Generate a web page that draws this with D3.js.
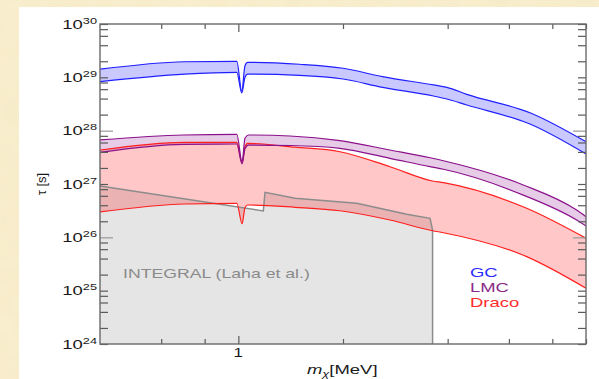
<!DOCTYPE html>
<html>
<head>
<meta charset="utf-8">
<script src="https://cdn.jsdelivr.net/npm/d3@7"></script>
<style>
  body { margin: 0; background: #f8ecca; }
  svg { display: block; font-family: "Liberation Sans", Arial, sans-serif; }
</style>
</head>
<body>
<svg id="chart" width="599" height="379"></svg>
<script>
// values: mass in MeV, lifetime in seconds
var gcMass  = [0.4, 0.70, 0.99, 1.023, 1.045, 1.063, 1.5, 2.0, 2.6, 3.64, 3.98, 4.54, 6.9, 10];
var gcUpper = [1.42e29, 1.96e29, 2.0e29, 5.5e28, 1.65e29, 1.91e29, 1.76e29, 1.48e29, 1.03e29, 7.2e28, 6.5e28, 4.8e28, 2.17e28, 6.2e27];
var gcLower = [8.3e28, 1.15e29, 1.24e29, 5.1e28, 1.0e29, 1.15e29, 1.09e29, 9.3e28, 6.5e28, 4.47e28, 3.93e28, 3.03e28, 1.33e28, 3.65e27];

var lmcMass  = [0.4, 0.695, 0.99, 1.025, 1.045, 1.069, 1.408, 1.96, 2.73, 3.56, 3.89, 6.6, 9.4, 10];
var lmcUpper = [6.7e27, 8.3e27, 8.55e27, 2.6e27, 7.2e27, 8.3e27, 7.94e27, 6.48e27, 4.34e27, 3.11e27, 2.73e27, 9.6e26, 3.25e26, 2.44e26];
var lmcLower = [3.93e27, 5.55e27, 5.62e27, 2.37e27, 4.6e27, 5.38e27, 5.27e27, 4.67e27, 3.03e27, 2.11e27, 1.89e27, 6.2e26, 2.11e26, 1.63e26];

var dracoMass  = [0.4, 0.70, 0.99, 1.025, 1.045, 1.063, 1.456, 1.96, 2.73, 3.62, 3.89, 6.75, 10];
var dracoUpper = [4.34e27, 6.05e27, 6.05e27, 2.5e27, 5.0e27, 5.79e27, 4.9e27, 4.03e27, 2.11e27, 1.14e27, 1.06e27, 3.5e26, 9.6e25];
var dracoLower = [2.99e26, 4.22e26, 4.35e26, 1.8e26, 3.6e26, 4.04e26, 3.66e26, 3.15e26, 2.11e26, 1.33e26, 1.22e26, 4.34e25, 1.11e25];

var integralMass = [0.4, 1.18, 1.193, 1.456, 2.19, 3.05, 3.56, 3.62, 3.62];
var integralTau  = [9.17e26, 3.12e26, 6.98e26, 5.39e26, 4.35e26, 2.7e26, 2.27e26, 1.37e26, 1e24];

var xMinorTicks = [0.6, 0.8, 2, 4, 6, 8, 10];
var xMajorTicks = [1];
var yExponents  = [24, 25, 26, 27, 28, 29, 30];
var yLongExps   = [26, 28];
var yMinorMult  = [2, 4, 6, 8];

var legendNames  = ["GC", "LMC", "Draco"];
var legendColors = ["#2a2aff", "#8a2a8a", "#ff2a2a"];

var frame = { left: 100, right: 586, top: 24, bottom: 344 };
var stretch = "scale(1.42,1)";

var svg = d3.select("#chart");

// textured paper behind the white panel
var defs = svg.append("defs");
var f = defs.append("filter").attr("id", "paper").attr("x", 0).attr("y", 0).attr("width", 1).attr("height", 1);
f.append("feTurbulence").attr("type", "fractalNoise").attr("baseFrequency", 0.035).attr("numOctaves", 3).attr("seed", 4);
f.append("feColorMatrix").attr("values", "0 0 0 0 0.85  0 0 0 0 0.75  0 0 0 0 0.5  0 0 0 0.3 -0.05");
defs.append("clipPath").attr("id", "plotclip")
  .append("rect").attr("x", frame.left).attr("y", frame.top)
  .attr("width", frame.right - frame.left).attr("height", frame.bottom - frame.top);

svg.append("rect").attr("width", 599).attr("height", 379).attr("fill", "#f9eecd");
svg.append("rect").attr("width", 599).attr("height", 379).attr("filter", "url(#paper)");
svg.append("rect").attr("x", 19).attr("y", 7).attr("width", 580).attr("height", 372).attr("fill", "#ffffff");

var x = d3.scaleLog().domain([0.4, 10]).range([frame.left, frame.right]);
var y = d3.scaleLog().domain([1e24, 1e30]).range([frame.bottom, frame.top]);

function rows(mass, a, b) {
  return mass.map(function(m, i) { return { m: m, hi: a[i], lo: b ? b[i] : 1e24 }; });
}

var band = d3.area()
  .x(function(d) { return x(d.m); })
  .y0(function(d) { return y(d.lo); })
  .y1(function(d) { return y(d.hi); })
  .curve(d3.curveMonotoneX);
var edgeHi = d3.line().x(function(d) { return x(d.m); }).y(function(d) { return y(d.hi); }).curve(d3.curveMonotoneX);
var edgeLo = d3.line().x(function(d) { return x(d.m); }).y(function(d) { return y(d.lo); }).curve(d3.curveMonotoneX);

var plot = svg.append("g").attr("clip-path", "url(#plotclip)");

// INTEGRAL excluded region
var integral = rows(integralMass, integralTau);
plot.append("path")
  .attr("d", d3.area().x(function(d) { return x(d.m); }).y0(y(1e24)).y1(function(d) { return y(d.hi); })(integral))
  .attr("fill", "#e5e5e5");

var bands = [
  { data: rows(dracoMass, dracoUpper, dracoLower), fill: "rgba(255,0,0,0.22)", stroke: "#ff1f1f" },
  { data: rows(lmcMass, lmcUpper, lmcLower), fill: "rgba(128,0,128,0.2)", stroke: "#8b108b" },
  { data: rows(gcMass, gcUpper, gcLower), fill: "rgba(0,0,255,0.21)", stroke: "#1f1fff" }
];

bands.forEach(function(b) {
  plot.append("path").attr("d", band(b.data)).attr("fill", b.fill);
});

plot.append("path")
  .attr("d", d3.line().x(function(d) { return x(d.m); }).y(function(d) { return y(d.hi); })(integral))
  .attr("fill", "none").attr("stroke", "#8c8c8c").attr("stroke-width", 1.5);

bands.forEach(function(b) {
  plot.append("path").attr("d", edgeHi(b.data)).attr("fill", "none").attr("stroke", b.stroke).attr("stroke-width", 1.2);
  plot.append("path").attr("d", edgeLo(b.data)).attr("fill", "none").attr("stroke", b.stroke).attr("stroke-width", 1.2);
});

// ticks, all pointing into the frame
var yMinor = [];
yExponents.slice(0, -1).forEach(function(e) {
  yMinorMult.forEach(function(k) { yMinor.push(k * Math.pow(10, e)); });
});
var yLong = yLongExps.map(function(e) { return Math.pow(10, e); });
var yShort = yExponents.filter(function(e) { return yLongExps.indexOf(e) < 0; })
  .map(function(e) { return Math.pow(10, e); });

function tickAxis(axis, sel, color) {
  sel.call(axis);
  sel.select(".domain").remove();
  sel.selectAll("line").attr("stroke", color).attr("stroke-width", 1.2);
}

[[frame.left, d3.axisLeft], [frame.right, d3.axisRight]].forEach(function(s) {
  tickAxis(s[1](y).tickValues(yMinor).tickSize(-8).tickFormat(""),
    svg.append("g").attr("transform", "translate(" + s[0] + ",0)"), "#5a5a5a");
  tickAxis(s[1](y).tickValues(yShort).tickSize(-8).tickFormat(""),
    svg.append("g").attr("transform", "translate(" + s[0] + ",0)"), "#5a5a5a");
  tickAxis(s[1](y).tickValues(yLong).tickSize(-13).tickFormat(""),
    svg.append("g").attr("transform", "translate(" + s[0] + ",0)"), "#9a9a9a");
});

[[frame.bottom, d3.axisBottom], [frame.top, d3.axisTop]].forEach(function(s) {
  tickAxis(s[1](x).tickValues(xMinorTicks).tickSize(-5).tickFormat(""),
    svg.append("g").attr("transform", "translate(0," + s[0] + ")"), "#5a5a5a");
  tickAxis(s[1](x).tickValues(xMajorTicks).tickSize(-8).tickFormat(""),
    svg.append("g").attr("transform", "translate(0," + s[0] + ")"), "#5a5a5a");
});

svg.append("rect")
  .attr("x", frame.left).attr("y", frame.top)
  .attr("width", frame.right - frame.left).attr("height", frame.bottom - frame.top)
  .attr("fill", "none").attr("stroke", "#6a6a6a").attr("stroke-width", 1.4);

// tick labels
svg.selectAll(".ylab")
  .data(yExponents)
  .enter()
    .append("text")
    .attr("class", "ylab")
    .attr("transform", function(e) { return "translate(97," + (y(Math.pow(10, e)) + 4.5) + ") " + stretch; })
    .attr("text-anchor", "end")
    .attr("font-size", 13)
    .attr("fill", "#1a1a1a")
    .text("10")
    .append("tspan")
      .attr("dy", -5)
      .attr("font-size", 9)
      .text(function(e) { return e; });

svg.selectAll(".xlab")
  .data(xMajorTicks)
  .enter()
    .append("text")
    .attr("class", "xlab")
    .attr("transform", function(v) { return "translate(" + x(v) + ",357) " + stretch; })
    .attr("text-anchor", "middle")
    .attr("font-size", 12)
    .attr("fill", "#1a1a1a")
    .text(function(v) { return v; });

// axis titles
var xt = svg.append("text")
  .attr("transform", "translate(307,374) " + stretch)
  .attr("font-size", 13)
  .attr("fill", "#1a1a1a");
xt.append("tspan").attr("font-style", "italic").text("m");
xt.append("tspan").attr("font-style", "italic").attr("font-size", 9).attr("dy", 3).text("χ");
xt.append("tspan").attr("dy", -3).text("[MeV]");

svg.append("text")
  .attr("transform", "translate(46,184) rotate(-90)")
  .attr("text-anchor", "middle")
  .attr("font-size", 13)
  .attr("fill", "#1a1a1a")
  .text("τ [s]");

svg.append("text")
  .attr("transform", "translate(123,278) scale(1.36,1)")
  .attr("font-size", 13)
  .attr("fill", "#8a8a8a")
  .text("INTEGRAL (Laha et al.)");

svg.selectAll(".legend")
  .data(legendNames)
  .enter()
    .append("text")
    .attr("class", "legend")
    .attr("transform", function(d, i) { return "translate(470," + (277 + i * 15) + ") " + stretch; })
    .attr("font-size", 13)
    .attr("fill", function(d, i) { return legendColors[i]; })
    .text(function(d) { return d; });
</script>
</body>
</html>
